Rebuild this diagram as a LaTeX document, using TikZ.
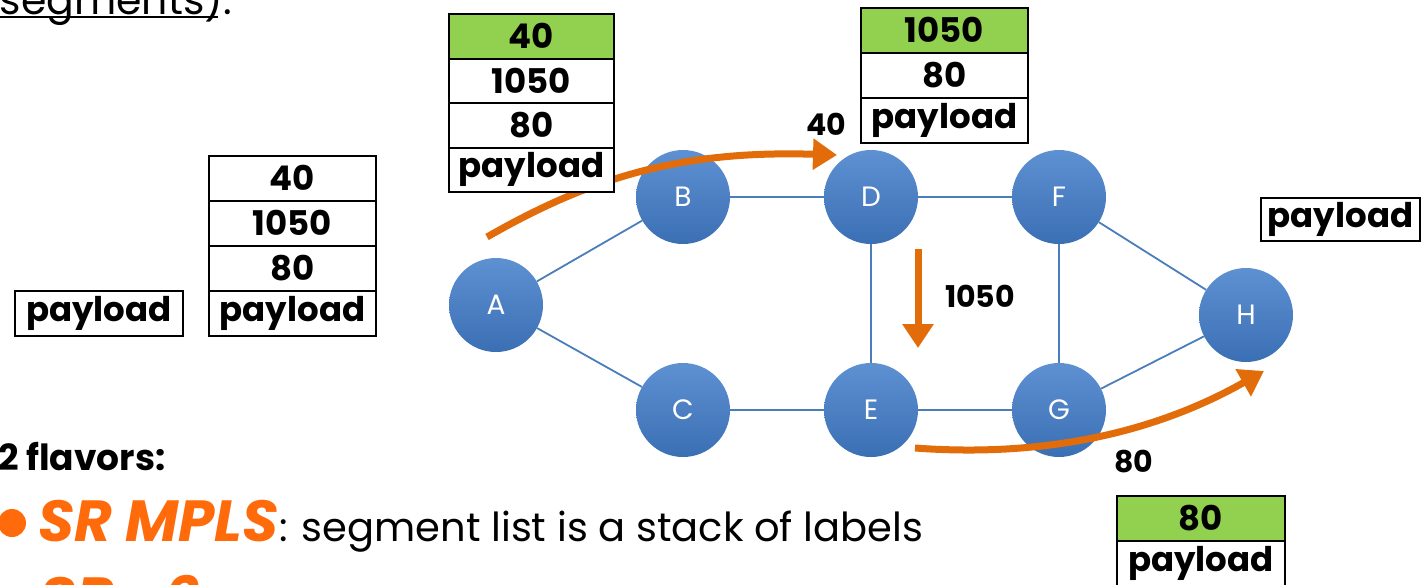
\documentclass[tikz,border=0pt]{standalone}
\usepackage{fontspec}
\setmainfont{Poppins}
\usetikzlibrary{arrows.meta}
\definecolor{cellgreen}{HTML}{92D050}
\definecolor{arrowor}{HTML}{E36C0A}
\definecolor{textor}{HTML}{FF6A0A}
\definecolor{edgeblue}{HTML}{4A7EBB}
\definecolor{ctop}{HTML}{5E91D2}
\definecolor{cbot}{HTML}{3B6FB4}
\begin{document}
\begin{tikzpicture}[x=1pt,y=-1pt,
  router/.style={circle, minimum size=94pt, inner sep=0pt, top color=ctop, bottom color=cbot, text=white, font=\fontsize{28}{28}\selectfont},
  edge/.style={draw=edgeblue, line width=1.8pt},
  flow/.style={draw=arrowor, line width=7pt, -{Triangle[length=24pt,width=30pt]}},
  cell/.style={draw, line width=2pt, anchor=north west, inner sep=0pt, minimum height=44.5pt, font=\fontsize{34}{34}\selectfont\bfseries},
  gcell/.style={cell, fill=cellgreen},
  lbl/.style={font=\fontsize{30}{30}\selectfont\bfseries, inner sep=0pt}]
\useasboundingbox (0,0) rectangle (1422,584);
\clip (0,0) rectangle (1422,584);

% slide text
\node[anchor=base east, inner sep=0pt, font=\fontsize{41}{41}\selectfont] (seg) at (232,14) {(segments):};
\draw[line width=2.5pt] (0,17) -- (218,17);
\node[anchor=base west, inner sep=0pt, font=\fontsize{36}{36}\selectfont\bfseries] (flav) at (-2,470) {2 flavors:};
\node[circle, fill=textor, minimum size=28pt, inner sep=0pt] (bul) at (12,523) {};
\node[anchor=base west, inner sep=0pt, text=textor, font=\fontsize{58}{58}\selectfont\bfseries\itshape] (srmpls) at (38,541) {SR MPLS};
\node[anchor=base west, inner sep=0pt, font=\fontsize{40}{40}\selectfont] (desc) at (srmpls.base east) {: segment list is a stack of labels};
\node[anchor=base west, inner sep=0pt, text=textor, font=\fontsize{58}{58}\selectfont\bfseries\itshape] (srv6) at (40,618) {SR v6};

% routers
\node[router] (A) at (496,305) {A};
\node[router] (B) at (683,197) {B};
\node[router] (C) at (683,410) {C};
\node[router] (D) at (871,197) {D};
\node[router] (E) at (871,410) {E};
\node[router] (F) at (1059,197) {F};
\node[router] (G) at (1059,410) {G};
\node[router] (H) at (1246,315) {H};

% edges
\draw[edge] (A) -- (B);
\draw[edge] (A) -- (C);
\draw[edge] (B) -- (D);
\draw[edge] (D) -- (F);
\draw[edge] (C) -- (E);
\draw[edge] (E) -- (G);
\draw[edge] (D) -- (E);
\draw[edge] (F) -- (G);
\draw[edge] (F) -- (H);
\draw[edge] (G) -- (H);

% flow arrows
\coordinate (f1s) at (487,237);
\coordinate (f1e) at (837,155);
\draw[flow] (f1s) .. controls (590,178) and (680,150) .. (f1e);
\coordinate (f2s) at (918,249);
\coordinate (f2e) at (918,348);
\draw[flow] (f2s) -- (f2e);
\coordinate (f3s) at (915,448);
\coordinate (f3e) at (1264,371);
\draw[flow] (f3s) .. controls (1050,458) and (1160,430) .. (f3e);

% labels
\node[lbl] (l40) at (826,124) {40};
\node[lbl] (l1050) at (980,296) {1050};
\node[lbl] (l80) at (1134,462) {80};

% stacks
\node[gcell, minimum width=165pt] (t1a) at (448,13) {40};
\node[cell, fill=white, minimum width=165pt] (t1b) at (448,57.5) {1050};
\node[cell, fill=white, minimum width=165pt] (t1c) at (448,102) {80};
\node[cell, fill=white, minimum width=165pt] (t1d) at (448,146.5) {payload};

\node[gcell, minimum width=167pt] (t2a) at (860,7) {1050};
\node[cell, fill=white, minimum width=167pt] (t2b) at (860,52) {80};
\node[cell, fill=white, minimum width=167pt] (t2c) at (860,97) {payload};

\node[cell, minimum width=167pt] (t3a) at (208,155) {40};
\node[cell, minimum width=167pt] (t3b) at (208,200) {1050};
\node[cell, minimum width=167pt] (t3c) at (208,245) {80};
\node[cell, minimum width=167pt] (t3d) at (208,290) {payload};

\node[cell, minimum width=168pt] (t4) at (14,290) {payload};

\node[cell, minimum width=159pt, minimum height=43pt] (t5) at (1260,197) {payload};

\node[gcell, minimum width=168pt] (t6a) at (1116,495) {80};
\node[cell, minimum width=168pt] (t6b) at (1116,540) {payload};
\end{tikzpicture}
\end{document}
